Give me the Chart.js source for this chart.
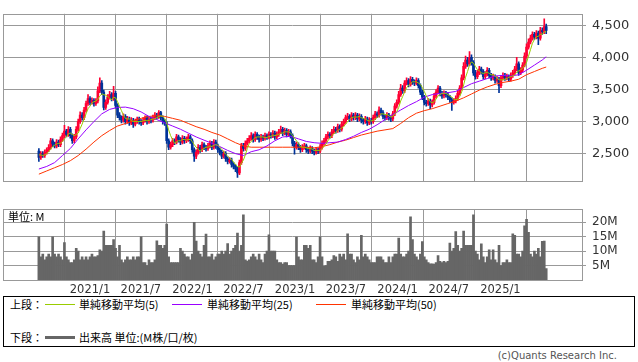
<!DOCTYPE html>
<html>
<head>
<meta charset="utf-8">
<script src="https://cdn.jsdelivr.net/npm/chart.js@4.4.1/dist/chart.umd.min.js"></script>
<style>
  body { margin: 0; background: #fff; width: 638px; height: 362px; position: relative; overflow: hidden; }
  #price { position: absolute; left: 0; top: 0; }
  #vol { position: absolute; left: 0; top: 196px; }
  #legend { position: absolute; left: 3px; top: 296px; width: 632px; height: 51px; border: 1px solid #000;
            box-sizing: border-box; font-family: "Noto Sans CJK JP", sans-serif; font-size: 11px; color: #000; }
  #legend span { position: absolute; white-space: nowrap; line-height: 12px; }
  #legend i { position: absolute; height: 1px; }
  #copy { position: absolute; right: 21px; top: 350px; font-family: "DejaVu Sans", sans-serif; font-size: 10px; color: #555; }
</style>
</head>
<body>
<canvas id="price" width="638" height="195"></canvas>
<canvas id="vol" width="638" height="100"></canvas>
<div id="legend">
  <span style="left:6px;top:1px">上段：</span>
  <i style="left:41px;top:7px;width:30px;background:#99cc00"></i>
  <span style="left:75px;top:1px">単純移動平均(5)</span>
  <i style="left:168px;top:7px;width:30px;background:#9900ff"></i>
  <span style="left:203px;top:1px">単純移動平均(25)</span>
  <i style="left:312px;top:7px;width:30px;background:#ff3300"></i>
  <span style="left:347px;top:1px">単純移動平均(50)</span>
  <span style="left:6px;top:34px">下段：</span>
  <i style="left:41px;top:39px;width:30px;height:3px;background:#666"></i>
  <span style="left:75px;top:34px">出来高 単位:(M株/口/枚)</span>
</div>
<div id="copy">(c)Quants Research Inc.</div>
<script>
// weekly candles, first week starting 2020-07-03
const startDate = '2020-07-03';
const tickDates = ['2021-01-01', '2021-07-01', '2022-01-01', '2022-07-01', '2023-01-01', '2023-07-01', '2024-01-01', '2024-07-01', '2025-01-01'];
const tickLabels = ['2021/1', '2021/7', '2022/1', '2022/7', '2023/1', '2023/7', '2024/1', '2024/7', '2025/1'];
const priceTicks = [2500, 3000, 3500, 4000, 4500];
const volumeTicks = [5, 10, 15, 20];

const open = [
  2540,2440,2500,2470,2520,2560,2600,2700,2650,2620, 2680,2640,2720,2780,2850,2800,2880,2780,2700,2760,
  2880,3000,3100,3060,3180,3280,3360,3300,3330,3280, 3320,3480,3600,3460,3220,3300,3380,3420,3360,3440,
  3250,3100,3060,3020,3080,3000,3040,2980,3020,2960, 3000,3040,3000,2980,3020,3060,3000,3040,3020,3060,
  3100,3080,3140,3060,3000,2980,2700,2600,2640,2700, 2680,2760,2720,2680,2740,2700,2720,2760,2700,2560,
  2460,2520,2600,2560,2640,2600,2580,2620,2660,2600, 2680,2620,2560,2520,2460,2500,2420,2380,2400,2330,
  2300,2260,2200,2360,2620,2580,2660,2700,2740,2780, 2720,2800,2760,2720,2760,2740,2780,2760,2800,2780,
  2820,2760,2800,2840,2880,2820,2860,2800,2840,2780, 2660,2600,2640,2600,2560,2600,2620,2560,2540,2580,
  2540,2520,2560,2540,2600,2660,2700,2760,2800,2780, 2840,2880,2860,2920,2880,2960,3000,3060,3080,3040,
  3100,3060,3100,3040,3080,3020,3000,3040,2980,3020, 3000,3060,3120,3100,3180,3140,3080,3060,3100,3060,
  3040,3120,3240,3300,3420,3520,3480,3600,3640,3580, 3660,3620,3600,3640,3560,3460,3380,3300,3280,3320,
  3260,3300,3400,3460,3520,3440,3400,3440,3420,3380, 3340,3300,3320,3360,3440,3520,3680,3860,3960,3900,
  4000,3920,3760,3700,3760,3820,3780,3700,3740,3800, 3720,3680,3700,3640,3660,3560,3680,3720,3680,3700,
  3660,3720,3760,3820,3900,3760,3800,3880,4020,4160, 4240,4300,4360,4320,4380,4300,4420,4400,4480
];
const high = [
  2580,2530,2530,2560,2590,2640,2740,2730,2680,2720, 2710,2760,2820,2940,2880,2920,2910,2810,2800,2920,
  3040,3150,3140,3220,3320,3420,3390,3370,3360,3360, 3540,3680,3640,3490,3340,3420,3470,3450,3550,3470,
  3280,3140,3090,3120,3110,3080,3070,3060,3050,3040, 3070,3070,3030,3060,3090,3090,3080,3070,3100,3140,
  3130,3170,3160,3090,3030,3000,2730,2680,2740,2730, 2800,2790,2750,2780,2770,2760,2800,2790,2730,2590,
  2560,2640,2630,2680,2670,2630,2660,2700,2690,2720, 2710,2650,2590,2550,2540,2530,2450,2440,2430,2360,
  2330,2290,2400,2660,2660,2700,2740,2780,2830,2810, 2840,2830,2790,2800,2790,2820,2810,2840,2830,2860,
  2850,2840,2880,2930,2910,2900,2890,2880,2870,2810, 2690,2680,2670,2630,2640,2660,2650,2590,2620,2610,
  2570,2600,2590,2640,2700,2740,2800,2840,2830,2880, 2920,2910,2960,2950,3000,3040,3100,3130,3110,3140,
  3130,3140,3130,3120,3110,3050,3080,3070,3060,3050, 3100,3160,3150,3230,3210,3170,3110,3140,3130,3090,
  3160,3280,3340,3470,3580,3560,3640,3680,3670,3700, 3690,3650,3680,3670,3590,3490,3410,3330,3360,3350,
  3340,3440,3500,3560,3550,3470,3480,3470,3450,3410, 3370,3360,3400,3480,3560,3730,3920,4020,4000,4090,
  4040,3950,3800,3800,3860,3850,3810,3780,3840,3830, 3750,3740,3730,3700,3690,3720,3760,3750,3740,3730,
  3760,3800,3860,4000,3930,3840,3920,4070,4210,4290, 4350,4400,4390,4420,4410,4470,4460,4600,4520
];
const low = [
  2380,2410,2440,2440,2490,2530,2570,2610,2590,2590, 2610,2610,2690,2750,2760,2770,2740,2660,2670,2730,
  2850,2970,3020,3030,3150,3250,3260,3270,3240,3250, 3290,3450,3420,3180,3190,3270,3350,3320,3330,3210,
  3060,3020,2980,2990,2960,2970,2940,2950,2910,2930, 2970,2960,2940,2950,2990,2960,2970,2980,2990,3030,
  3040,3050,3020,2960,2940,2660,2560,2570,2610,2640, 2650,2680,2640,2650,2660,2670,2690,2660,2520,2380,
  2420,2490,2520,2530,2560,2540,2550,2590,2560,2570, 2580,2520,2480,2420,2430,2380,2340,2350,2290,2260,
  2220,2130,2170,2330,2540,2550,2630,2670,2710,2680, 2690,2720,2680,2690,2700,2710,2720,2730,2740,2750,
  2720,2730,2770,2810,2780,2790,2760,2770,2740,2620, 2490,2570,2560,2520,2530,2570,2520,2500,2510,2500,
  2480,2490,2500,2510,2570,2630,2670,2730,2740,2750, 2810,2820,2830,2840,2850,2930,2970,3030,3000,3010,
  3020,3030,3000,3010,2980,2960,2970,2940,2950,2960, 2970,3030,3060,3070,3100,3040,3020,3030,3020,3000,
  3010,3090,3210,3270,3390,3440,3450,3570,3540,3550, 3580,3560,3570,3520,3420,3340,3260,3240,3250,3200,
  3230,3270,3370,3430,3400,3360,3370,3380,3340,3300, 3175,3270,3290,3330,3410,3490,3650,3830,3860,3870,
  3880,3720,3660,3670,3730,3740,3660,3670,3710,3680, 3640,3650,3600,3610,3450,3530,3650,3640,3650,3620,
  3630,3690,3730,3790,3720,3730,3770,3850,3990,4130, 4210,4270,4280,4290,4200,4270,4360,4370,4370
];
const close = [
  2440,2500,2470,2520,2560,2600,2700,2650,2620,2680, 2640,2720,2780,2850,2800,2880,2780,2700,2760,2880,
  3000,3100,3060,3180,3280,3360,3300,3330,3280,3320, 3480,3600,3460,3220,3300,3380,3420,3360,3440,3250,
  3100,3060,3020,3080,3000,3040,2980,3020,2960,3000, 3040,3000,2980,3020,3060,3000,3040,3020,3060,3100,
  3080,3140,3060,3000,2980,2700,2600,2640,2700,2680, 2760,2720,2680,2740,2700,2720,2760,2700,2560,2460,
  2520,2600,2560,2640,2600,2580,2620,2660,2600,2680, 2620,2560,2520,2460,2500,2420,2380,2400,2330,2300,
  2260,2200,2360,2620,2580,2660,2700,2740,2780,2720, 2800,2760,2720,2760,2740,2780,2760,2800,2780,2820,
  2760,2800,2840,2880,2820,2860,2800,2840,2780,2660, 2600,2640,2600,2560,2600,2620,2560,2540,2580,2540,
  2520,2560,2540,2600,2660,2700,2760,2800,2780,2840, 2880,2860,2920,2880,2960,3000,3060,3080,3040,3100,
  3060,3100,3040,3080,3020,3000,3040,2980,3020,3000, 3060,3120,3100,3180,3140,3080,3060,3100,3060,3040,
  3120,3240,3300,3420,3520,3480,3600,3640,3580,3660, 3620,3600,3640,3560,3460,3380,3300,3280,3320,3260,
  3300,3400,3460,3520,3440,3400,3440,3420,3380,3340, 3300,3320,3360,3440,3520,3680,3860,3960,3900,4000,
  3920,3760,3700,3760,3820,3780,3700,3740,3800,3720, 3680,3700,3640,3660,3560,3680,3720,3680,3700,3660,
  3720,3760,3820,3900,3760,3800,3880,4020,4160,4240, 4300,4360,4320,4380,4300,4420,4400,4480,4420
];
// volume, millions of shares
const volume = [
  15,8,9,7,8,9,8,15,9,8, 9,8,7,13,8,7,6,6,7,11,
  10,7,8,7,8,7,8,9,8,8, 8.5,10.5,10,17,12,12,12,12,14,11,
  8,12,7,6,7,8,7,7,8,7, 8,8,15,6,6,5,7,6,6,7,
  13.6,12,12,11,12,19.4,8,6,6,6, 6,6,11,10,9,8,8,7,9,20,
  13.5,10,9,8,12,15.9,8,8,9,7, 8,9,9,10,9,10,12.6,9,10,11,
  12,16.3,10,12,22.6,7,6.6,7,8,9, 8,7,9,7,6,9,10,15.7,10,10,
  10,7,6,6,5.5,6,6,5,5,5, 5,14.9,8,7,7,12,12,11,12,7,
  7,6,8,15,8,4.7,5,6.5,6.5,7, 8.5,8,6.5,9,8,9,7,16,9,9,
  7,6,8,7,15.5,8,9,8,7,6, 6,6,8,8,8,7,6,6,8,6,
  8,9,9,14.5,9,8,8,9,10,21.9, 14,9,8,7,9,13.3,8,7,6,5.6,
  5.6,5.5,6,8.5,6.5,6,6.5,6,6.5,12.8, 10,11,16.8,12,10,11,17,12,12,12,
  12,22.6,10,9,7,12.5,8,6,8,10.5, 7,10.5,7,6,12,5,6,6,7,6,
  6,16,15.5,9,9,8,10,18.8,21,16.5, 9,8,10,9,11,8,13.4,13.5,4
];
const ma5 = [
  2480,2480,2470,2480,2500,2530,2570,2610,2630,2650, 2660,2660,2690,2730,2760,2810,2820,2800,2780,2800,
  2820,2890,2960,3040,3120,3200,3240,3290,3310,3320, 3350,3400,3430,3420,3410,3390,3360,3340,3380,3370,
  3310,3240,3170,3100,3050,3040,3040,3020,3000,3000, 3000,3000,3000,3010,3020,3010,3020,3030,3040,3040,
  3060,3080,3090,3080,3050,2980,2870,2780,2720,2660, 2680,2700,2700,2720,2720,2710,2720,2720,2690,2640,
  2600,2570,2540,2560,2580,2600,2600,2620,2610,2630, 2640,2630,2600,2570,2530,2490,2460,2430,2410,2370,
  2330,2300,2290,2350,2400,2480,2580,2660,2690,2720, 2750,2760,2760,2760,2760,2750,2750,2770,2770,2790,
  2780,2790,2800,2820,2820,2840,2840,2840,2820,2790, 2740,2700,2660,2610,2600,2600,2590,2580,2580,2570,
  2550,2550,2550,2550,2580,2610,2650,2700,2740,2780, 2810,2830,2860,2880,2900,2920,2960,3000,3030,3060,
  3070,3070,3070,3080,3060,3050,3040,3020,3010,3010, 3020,3040,3060,3090,3120,3120,3110,3110,3090,3070,
  3080,3120,3150,3220,3320,3390,3460,3530,3560,3590, 3620,3620,3620,3600,3580,3530,3470,3400,3350,3310,
  3290,3310,3350,3400,3420,3440,3440,3440,3420,3400, 3380,3350,3340,3350,3390,3460,3570,3690,3780,3880,
  3930,3910,3860,3810,3790,3760,3750,3760,3770,3750, 3730,3730,3710,3680,3650,3650,3650,3660,3670,3690,
  3700,3710,3730,3770,3790,3810,3830,3870,3920,4020, 4120,4220,4280,4320,4330,4360,4360,4400,4400
];
// 25 and 50 week averages, read every 4 weeks
const maWeeks = [
  0,4,8,12,16,20,24,28,32,36,40,44,48,52,56,60,64,68,72,76,80,84,88,92,96,100,104,108,112,116,120,124,128,
  132,136,140,144,148,152,156,160,164,168,172,176,180,184,188,192,196,200,204,208,212,216,220,224,228,232,
  236,240,244,248,252,256,258
];
const ma25 = [
  2260,2300,2360,2470,2580,2730,2870,3000,3120,3190,3220,3225,3200,3150,3080,3030,2980,2930,2880,2820,2760,
  2710,2660,2610,2550,2500,2470,2530,2560,2620,2700,2760,2770,2730,2690,2670,2660,2670,2680,2720,2770,2830,
  2880,2950,3030,3110,3180,3250,3310,3380,3420,3440,3450,3470,3530,3590,3630,3670,3710,3720,3710,3730,3800,
  3880,3960,4010
];
const ma50 = [
  2180,2230,2280,2330,2390,2470,2570,2680,2780,2860,2930,2970,3010,3050,3080,3090,3080,3050,3020,2970,2920,
  2880,2830,2790,2730,2670,2620,2600,2600,2600,2600,2600,2600,2600,2600,2590,2610,2640,2680,2710,2750,2790,
  2820,2850,2870,2890,2970,3060,3130,3170,3200,3240,3280,3320,3370,3430,3490,3540,3580,3610,3630,3660,3730,
  3780,3830,3850
];

const upColor = '#ff0033';
const downColor = '#003399';
const gridColor = '#999999';
const weekMs = 7 * 24 * 3600 * 1000;
const weekOf = d => (Date.parse(d) - Date.parse(startDate)) / weekMs;

const candleColor = close.map((c, i) => c >= open[i] ? upColor : downColor);
const xy = (arr, xs) => arr.map((v, i) => ({ x: xs ? xs[i] : i, y: v }));

const frame = {
  id: 'frame',
  afterDraw(chart) {
    const { ctx, chartArea: a } = chart;
    ctx.save();
    ctx.strokeStyle = gridColor;
    ctx.lineWidth = 1;
    ctx.strokeRect(Math.round(a.left) + 0.5, Math.round(a.top) + 0.5,
      Math.round(a.right - a.left), Math.round(a.bottom - a.top));
    ctx.restore();
  }
};

function xAxis(showLabels) {
  return {
    type: 'linear', min: -18.24, max: 276.2, offset: false,
    afterBuildTicks: s => { s.ticks = tickDates.map(d => ({ value: weekOf(d) })); },
    grid: { color: gridColor, drawTicks: false },
    border: { display: false },
    ticks: {
      display: showLabels, autoSkip: false, maxRotation: 0, padding: 3, color: '#333',
      font: { family: 'DejaVu Sans', size: 11.5 },
      callback: (v, i) => tickLabels[i]
    },
    afterFit: s => { s.height = showLabels ? 16 : 0; }
  };
}

function yAxis(ticks, min, max, size, fmt) {
  return {
    position: 'right', min: min, max: max,
    afterBuildTicks: s => { s.ticks = ticks.map(v => ({ value: v })); },
    grid: { color: gridColor, tickLength: 4 },
    border: { display: false },
    ticks: { padding: 6, color: '#333', font: { family: 'DejaVu Sans', size: size }, callback: fmt },
    afterFit: s => { s.width = 56; }
  };
}

new Chart(document.getElementById('price'), {
  type: 'bar',
  data: {
    datasets: [
      { type: 'line', data: xy(ma5), borderColor: '#99cc00', borderWidth: 1, pointRadius: 0, order: 0 },
      { type: 'line', data: xy(ma25, maWeeks), borderColor: '#9900ff', borderWidth: 1, pointRadius: 0, order: 0 },
      { type: 'line', data: xy(ma50, maWeeks), borderColor: '#ff3300', borderWidth: 1, pointRadius: 0, order: 0 },
      { data: low.map((l, i) => ({ x: i, y: [l, high[i]] })), backgroundColor: candleColor,
        barThickness: 1, grouped: false, order: 2 },
      { data: open.map((o, i) => ({ x: i, y: [o, close[i]] })), backgroundColor: candleColor,
        barThickness: 2, minBarLength: 1, grouped: false, order: 1 }
    ]
  },
  options: {
    responsive: false, animation: false, devicePixelRatio: 1,
    layout: { padding: { left: 3, top: 1, bottom: 4, right: 0 } },
    plugins: { legend: { display: false }, tooltip: { enabled: false } },
    scales: {
      x: xAxis(false),
      y: yAxis(priceTicks, 2070, 4680, 13, v => v.toLocaleString('en-US'))
    }
  },
  plugins: [frame]
});

const unitLabel = {
  id: 'unitLabel',
  afterDraw(chart) {
    const { ctx, chartArea: a } = chart;
    ctx.save();
    ctx.font = '11px "Noto Sans CJK JP"';
    ctx.fillStyle = '#000';
    ctx.textBaseline = 'top';
    ctx.fillText('単位: M', a.left + 5, a.top + 2);
    ctx.restore();
  }
};

new Chart(document.getElementById('vol'), {
  type: 'bar',
  data: {
    datasets: [
      { data: xy(volume), backgroundColor: '#666666', barThickness: 2, grouped: false }
    ]
  },
  options: {
    responsive: false, animation: false, devicePixelRatio: 1,
    layout: { padding: { left: 3, top: 5, bottom: 0, right: 0 } },
    plugins: { legend: { display: false }, tooltip: { enabled: false } },
    scales: {
      x: xAxis(true),
      y: yAxis(volumeTicks, 0, 24.55, 12, v => v + 'M')
    }
  },
  plugins: [frame, unitLabel]
});
</script>
</body>
</html>
